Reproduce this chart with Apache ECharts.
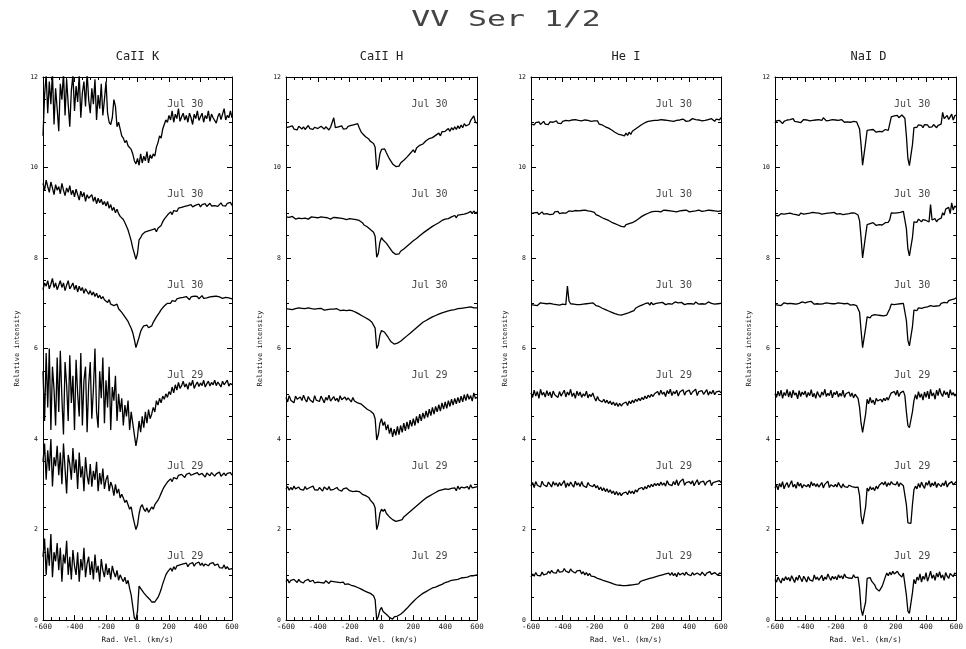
<!DOCTYPE html>
<html><head><meta charset="utf-8">
<script src="https://cdn.jsdelivr.net/npm/echarts@6/dist/echarts.min.js"></script>
<style>html,body{margin:0;padding:0;background:#fff}#c{width:966px;height:649px}</style>
</head><body><div id="c"></div>
<script>
// ---------- DATA ----------
// radial velocity grid, km/s
const velocity = [
-600,-590,-580,-570,-560,-550,-540,-530,-520,-510,
-500,-490,-480,-470,-460,-450,-440,-430,-420,-410,
-400,-390,-380,-370,-360,-350,-340,-330,-320,-310,
-300,-290,-280,-270,-260,-250,-240,-230,-220,-210,
-200,-190,-180,-170,-160,-150,-140,-130,-120,-110,
-100,-90,-80,-70,-60,-50,-40,-30,-20,-10,
0,10,20,30,40,50,60,70,80,90,
100,110,120,130,140,150,160,170,180,190,
200,210,220,230,240,250,260,270,280,290,
300,310,320,330,340,350,360,370,380,390,
400,410,420,430,440,450,460,470,480,490,
500,510,520,530,540,550,560,570,580,590,
600];
const offsets = [10, 8, 6, 4, 2, 0];
const dates = ['Jul 30', 'Jul 30', 'Jul 30', 'Jul 29', 'Jul 29', 'Jul 29'];
const panelTitles = ['CaII K', 'CaII H', 'He I', 'NaI D'];
const xTicks = [-600, -400, -200, 0, 200, 400, 600];
const yTicks = [0, 2, 4, 6, 8, 10, 12];

// Relative intensity of each spectrum in hundredths (before the vertical offset)
// CaII K
const caK1 = [70,160,205,120,190,140,210,95,175,130, 80,185,150,210,115,195,140,90,170,205, 125,180,145,205,110,165,190,135,210,150, 120,175,140,195,105,160,130,185,115,150, 190,120,100,95,110,150,135,90,100,85, 70,65,55,60,48,52,40,30,15,8, 20,5,30,10,25,15,35,10,28,20, 30,25,45,55,70,65,85,95,105,100, 115,105,125,100,118,108,130,102,112,120, 105,115,100,120,110,95,118,108,125,104, 112,120,100,115,108,125,102,118,110,114, 98,112,120,106,118,130,105,115,110,125, 110];
const caK2 = [165,150,172,158,145,168,155,140,162,150, 158,142,165,150,138,155,145,160,140,150, 135,152,140,128,148,135,145,125,140,132, 128,140,125,135,120,132,122,130,118,125, 115,125,110,118,105,112,100,108,98,92, 95,85,78,70,62,50,38,22,10,-3, 10,40,45,52,48,58,55,60,56,62, 60,65,58,66,62,72,80,86,90,95, 98,102,96,105,108,103,110,106,112,108, 114,110,116,112,118,113,110,117,114,119, 113,118,115,120,114,117,121,115,119,116, 120,114,118,122,116,119,115,121,117,123, 116];
const caK3 = [130,145,138,150,132,142,155,135,145,130, 140,150,135,145,128,140,150,132,138,145, 130,140,125,138,128,135,122,132,126,120, 128,118,125,115,122,112,118,110,115,108, 110,102,108,98,100,95,92,98,88,85, 80,75,70,65,60,52,45,35,20,2, 5,25,38,45,50,48,52,46,44,50, 58,62,70,75,80,86,90,94,96,100, 104,100,106,108,104,110,107,112,109,113, 110,115,112,108,114,111,116,112,115,110, 113,117,111,115,112,116,114,110,115,113, 116,112,114,117,111,115,113,116,112,114, 110];
const caK4 = [150,40,190,70,200,20,160,110,30,180, 60,195,90,10,170,120,40,185,80,140, 20,175,100,50,190,30,130,160,15,120, 170,45,110,200,60,25,150,90,180,35, 130,70,160,20,115,85,140,40,100,60, 90,30,75,50,85,20,60,35,10,-15, 5,40,15,50,25,60,35,65,45,55, 70,60,85,75,90,80,95,88,100,92, 105,98,115,102,120,108,125,112,118,128, 115,122,110,125,118,130,112,120,126,116, 124,118,130,115,122,128,117,125,120,130, 118,126,121,115,128,120,124,130,117,123, 120];
const caK5 = [150,190,110,175,130,200,95,160,140,185, 120,170,100,190,135,80,165,145,110,180, 125,155,90,170,115,140,85,160,120,100, 145,95,130,110,150,85,125,100,135,90, 110,120,85,105,95,75,100,80,90,70, 78,70,60,65,55,45,50,30,15,0, 10,35,50,55,45,40,48,38,42,50, 45,55,52,65,72,80,88,95,100,105, 108,112,106,115,118,112,120,116,122,118, 115,122,118,125,120,116,123,119,126,121, 118,124,120,116,125,121,119,126,122,118, 123,120,127,118,122,125,119,124,121,126, 120];
const caK6 = [140,180,100,160,120,190,95,150,130,170, 110,160,85,145,125,175,100,140,90,155, 120,100,150,85,135,110,160,95,125,140, 100,130,90,145,105,120,85,135,110,95, 125,100,115,90,120,105,95,110,88,100, 92,85,95,80,88,70,55,30,5,0, 20,75,70,65,60,58,52,48,45,40, 42,40,45,50,58,68,80,90,100,106, 110,115,108,118,112,120,116,122,118,124, 120,126,118,124,121,127,119,125,122,128, 121,126,119,124,128,120,125,122,127,121, 118,124,116,120,115,122,113,118,112,116, 114];

// CaII H
const caH1 = [88,84,90,86,92,85,89,83,91,87, 85,90,84,88,93,86,90,84,89,92, 86,84,91,88,85,90,87,83,89,86, 110,88,84,90,87,92,85,89,86,91, 88,93,89,95,92,97,88,80,75,72, 68,64,63,58,59,53,45,-5,5,30, 40,36,41,33,29,19,15,8,7,2, 6,3,10,9,16,14,23,21,31,30, 39,33,43,41,49,47,52,51,59,56, 64,60,66,63,71,67,76,70,79,76, 80,77,86,80,88,83,90,84,92,86, 94,88,97,92,96,95,104,106,114,100, 98];
const caH2 = [91,88,90,87,92,89,86,90,88,91, 87,90,88,92,86,89,91,87,90,88, 89,86,91,88,90,87,89,92,86,88, 90,87,89,86,88,91,87,89,85,88, 87,88,86,86,85,85,83,79,78,73, 74,69,69,63,63,57,48,2,10,35, 45,40,42,33,32,23,22,13,14,8, 12,9,15,13,20,19,26,25,32,31, 38,37,43,42,49,48,55,53,60,59, 65,63,70,68,74,72,78,77,83,80, 86,84,87,86,91,88,94,89,95,93, 96,94,97,96,99,97,103,98,104,99, 102];
const caH3 = [88,90,87,89,86,90,88,87,90,86, 89,87,88,86,90,87,88,85,87,86, 88,86,89,87,85,88,86,89,87,85, 87,85,88,86,84,87,85,86,84,86, 85,84,83,82,80,78,76,74,72,70, 68,66,64,62,58,54,45,0,8,30, 40,38,36,32,26,20,15,12,10,10, 12,14,16,19,22,25,28,31,34,37, 40,43,46,49,52,55,58,60,62,64, 66,68,70,71,73,75,76,78,79,80, 81,82,83,84,85,86,86,87,88,88, 89,88,90,89,91,90,92,91,90,92, 90];
const caH4 = [92,82,96,86,90,80,95,88,84,93, 85,97,88,82,94,87,91,81,96,86, 90,83,95,88,80,92,86,97,84,89, 94,85,90,82,96,87,83,93,86,91, 88,82,92,84,86,80,84,78,76,72, 74,66,70,62,64,56,45,-2,10,35, 45,30,38,20,32,12,25,5,22,8, 28,10,30,15,35,18,38,22,42,28, 45,30,50,35,55,40,58,45,62,48, 66,52,70,55,72,60,76,62,80,66, 82,68,85,72,88,75,90,78,92,80, 95,82,98,85,100,88,96,84,102,90, 92];
const caH5 = [90,95,87,93,88,96,90,86,94,89, 92,87,95,89,86,93,90,96,88,92, 87,93,89,85,94,90,88,95,87,91, 89,86,93,88,91,85,90,87,92,88, 86,90,84,88,85,82,84,80,78,76, 75,71,71,65,64,57,48,0,12,36, 45,40,45,36,36,28,29,22,23,18, 19,20,22,22,28,26,34,33,40,38, 46,45,52,51,58,57,64,62,70,67, 74,72,78,75,82,79,86,82,88,85, 90,87,89,90,91,90,92,86,96,89, 94,92,92,94,95,89,99,92,94,94, 95];
const caH6 = [85,90,82,88,84,90,86,83,90,85, 88,82,87,84,90,85,83,88,82,86, 84,88,83,86,82,87,84,81,86,83, 85,82,84,80,83,81,84,79,82,80, 81,77,80,75,76,72,73,69,69,65, 66,62,63,59,59,54,45,0,8,22, 28,19,19,13,11,6,6,2,7,4, 9,8,13,13,19,20,26,28,34,35, 41,42,48,49,54,53,59,58,63,62, 67,66,71,69,73,72,76,74,79,78, 83,81,85,84,88,86,89,88,90,89, 93,89,94,93,95,94,98,96,98,97, 100];

// He I
const heI1 = [96,100,94,99,97,101,95,98,102,96, 99,95,101,97,100,96,103,98,100,97, 102,98,104,100,103,99,105,101,106,102, 104,108,103,107,105,109,104,106,102,105, 103,99,103,96,100,94,97,90,94,87, 89,83,85,78,81,74,78,72,76,70, 76,71,78,73,80,78,85,84,90,89, 95,93,99,97,102,101,103,103,104,104, 104,102,106,103,105,101,104,107,103,105, 102,106,104,101,105,103,107,104,102,106, 103,105,108,104,106,102,105,107,103,106, 104,100,106,103,108,104,102,107,109,105, 110];
const heI2 = [98,95,100,97,101,96,99,102,97,100, 98,101,96,100,97,102,99,103,98,101, 100,103,99,102,104,100,103,101,105,102, 104,101,105,103,106,102,104,100,103,101, 101,96,99,93,96,89,93,86,89,83, 85,79,81,76,78,73,75,70,74,69, 74,70,76,72,78,77,82,82,87,87, 92,91,96,95,99,98,102,101,103,102, 103,105,102,104,106,103,105,102,104,106, 103,105,102,106,104,101,105,103,106,104, 102,105,103,107,104,102,106,104,103,105, 104,102,106,103,105,108,104,106,103,105, 104];
const heI3 = [97,100,96,99,95,98,101,97,100,96, 99,97,100,96,98,101,97,99,96,100, 98,101,97,138,105,99,102,98,101,97, 100,97,101,98,102,99,97,100,98,101, 100,95,98,93,94,89,92,86,88,83, 85,80,82,77,80,75,79,74,78,76, 80,78,82,81,85,84,89,88,93,92, 96,95,99,97,101,96,102,97,101,100, 99,101,98,102,100,97,101,99,102,98, 100,103,99,101,98,102,100,97,101,99, 102,99,101,98,103,100,98,102,99,101, 98,101,103,99,100,102,98,101,99,102, 100];
const heI4 = [102,92,108,95,105,90,110,97,103,93, 107,96,104,91,106,98,102,92,105,95, 98,108,93,104,97,110,94,102,90,106, 96,104,92,100,95,106,91,99,94,102, 92,84,94,86,90,82,88,80,86,78, 84,76,82,74,80,72,79,73,78,75, 82,74,84,78,86,80,88,83,90,85, 92,87,95,89,97,92,99,94,100,96, 105,97,108,99,104,94,107,100,110,96, 105,100,108,95,104,102,109,97,105,101, 108,98,104,100,110,96,105,101,107,99, 103,109,97,105,100,108,98,104,101,106, 102];
const heI5 = [96,104,93,106,98,102,94,107,99,103, 95,105,100,94,106,98,103,95,104,97, 100,108,93,103,96,105,99,94,107,98, 103,95,106,97,101,93,104,98,100,95, 100,92,97,88,94,86,92,84,90,82, 88,80,85,77,84,76,82,75,80,78, 83,77,86,80,85,79,88,83,90,86, 93,88,95,90,98,93,100,95,102,97, 102,97,105,98,103,96,108,100,104,97, 106,99,110,97,105,102,112,98,104,100, 106,101,108,97,104,110,99,105,102,107, 98,105,101,109,97,104,100,106,103,108, 104];
const heI6 = [95,102,97,105,99,103,98,106,100,104, 102,108,103,110,105,109,104,112,106,110, 107,114,108,112,105,113,108,111,104,109, 106,110,102,107,100,105,98,103,97,101, 96,100,92,96,90,94,87,91,85,88, 83,86,80,84,78,82,77,80,76,79, 76,80,77,81,78,82,79,83,80,85, 83,88,85,90,87,92,89,94,91,96, 93,98,95,100,97,102,98,104,99,105, 98,103,96,105,100,97,104,99,106,101, 103,98,105,100,96,104,101,99,106,102, 98,104,100,107,101,97,105,102,99,104, 103];

// NaI D
const naD1 = [98,103,99,104,100,97,102,99,105,101, 106,103,108,102,105,101,104,99,103,106, 102,105,107,103,106,104,101,105,102,106, 108,104,110,106,103,107,104,102,106,103, 105,101,104,102,106,103,100,104,101,103, 100,104,102,98,101,97,85,50,5,5, 55,82,80,83,79,84,81,78,82,80, 83,79,81,84,80,82,86,112,110,114, 111,115,110,113,116,112,109,70,20,4, 5,50,88,92,89,94,90,93,88,95, 91,94,89,93,90,95,92,88,93,91, 96,122,108,104,115,106,112,118,105,114, 116];
const naD2 = [95,97,93,96,98,94,97,95,98,96, 99,95,97,100,96,98,94,99,101,97, 100,98,102,99,97,101,98,100,96,99, 101,97,100,98,102,99,96,100,98,101, 99,97,100,98,101,96,99,97,100,98, 97,100,96,99,98,95,82,45,0,2, 50,74,72,76,73,78,75,72,76,74, 77,73,76,78,74,79,85,100,102,99, 103,100,104,101,99,103,100,65,20,5, 6,45,80,84,79,86,82,80,85,81, 83,86,80,118,84,82,87,80,85,83, 88,100,95,108,104,112,98,122,106,115, 112];
const naD3 = [97,100,96,99,95,98,101,97,99,96, 100,97,99,102,98,96,100,98,103,99, 101,98,103,100,104,101,98,102,99,101, 98,102,99,97,101,98,100,103,99,101, 99,97,101,98,100,96,99,97,100,98, 96,99,97,98,95,97,80,40,2,3, 45,70,72,68,73,70,75,72,74,71, 73,75,72,76,74,78,88,98,100,97, 100,98,101,99,102,100,98,62,18,6, 8,48,85,88,84,90,86,89,87,91, 88,92,90,95,91,93,96,94,98,95, 100,98,102,104,101,106,103,108,105,110, 112];
const naD4 = [100,92,106,95,108,90,103,96,110,93, 105,91,108,97,102,89,107,94,104,98, 106,92,103,96,109,93,101,90,105,97, 92,104,97,110,94,101,96,108,91,103, 98,106,93,101,95,108,92,100,96,104, 94,102,91,99,96,90,70,35,15,18, 55,88,78,92,80,86,76,90,84,80, 88,82,90,85,92,86,95,102,98,105, 97,108,94,102,99,106,96,60,30,25, 28,60,85,98,88,105,92,100,86,104, 92,106,89,110,95,102,88,108,96,112, 100,94,107,98,104,91,109,97,103,95, 100];
const naD5 = [92,98,88,102,94,106,90,99,104,93, 97,108,94,100,91,105,96,102,92,99, 103,95,100,93,106,97,102,95,101,94, 98,104,92,100,96,107,93,99,103,95, 100,94,104,97,92,101,95,99,93,98, 102,95,99,93,97,94,75,30,12,15, 50,92,85,95,88,93,86,96,90,98, 94,104,99,106,95,103,98,106,101,105, 99,106,95,103,100,97,94,55,15,12, 14,55,88,96,90,102,93,105,97,91, 104,98,108,94,103,97,106,93,102,99, 95,103,97,108,94,101,97,106,99,103, 106];
const naD6 = [90,84,95,88,82,93,87,96,89,94, 86,98,91,83,95,88,99,92,85,97, 91,84,96,89,93,86,100,90,95,88, 92,99,87,95,90,102,94,88,97,91, 96,89,100,93,98,91,102,95,99,93, 97,92,100,94,98,95,70,25,10,12, 40,92,88,94,86,82,78,70,66,64, 68,75,85,95,104,98,106,100,108,102, 98,108,102,106,95,104,100,55,20,15, 18,60,90,80,95,88,102,84,97,90, 105,86,96,108,92,100,88,104,95,107, 93,100,88,105,97,92,103,99,96,104, 102];

const panelSpectra = [
  [caK1, caK2, caK3, caK4, caK5, caK6],
  [caH1, caH2, caH3, caH4, caH5, caH6],
  [heI1, heI2, heI3, heI4, heI5, heI6],
  [naD1, naD2, naD3, naD4, naD5, naD6]
];
panelSpectra.forEach((sp, p) => sp.forEach((a, s) => {
  if (a.length !== velocity.length) throw new Error('panel ' + p + ' spectrum ' + s + ' has ' + a.length + ' values');
}));

// ---------- LAYOUT ----------
const FONT = '"DejaVu Sans Mono", monospace';
const gridLeft = [43, 286, 531, 775];
const gridWidth = [189, 191, 190, 187];
const gridTop = 77, gridHeight = 548;

const grid = gridLeft.map((l, i) => ({ left: l, top: gridTop, width: gridWidth[i], height: gridHeight }));

const common = {
  axisLine: { show: true, onZero: false, lineStyle: { color: '#000', width: 1 } },
  axisTick: { show: true, inside: true, length: 5, lineStyle: { color: '#000', width: 1 } },
  minorTick: { show: true, splitNumber: 4, length: 3, lineStyle: { color: '#000', width: 1 } },
  splitLine: { show: false },
  minorSplitLine: { show: false }
};

const xAxis = [], yAxis = [], series = [];
panelSpectra.forEach((spectra, p) => {
  xAxis.push(Object.assign({}, common, {
    type: 'value', gridIndex: p, position: 'bottom', min: xTicks[0], max: xTicks[xTicks.length - 1],
    interval: xTicks[1] - xTicks[0],
    axisLabel: { show: true, fontSize: 7.5, fontFamily: FONT, color: '#111', margin: 3 },
    name: 'Rad. Vel. (km/s)', nameLocation: 'middle', nameGap: 14,
    nameTextStyle: { fontSize: 7.5, fontFamily: FONT, color: '#111' }
  }));
  xAxis.push(Object.assign({}, common, {
    type: 'value', gridIndex: p, position: 'top', min: xTicks[0], max: xTicks[xTicks.length - 1],
    interval: xTicks[1] - xTicks[0], axisLabel: { show: false }
  }));
  yAxis.push(Object.assign({}, common, {
    type: 'value', gridIndex: p, position: 'left', min: yTicks[0], max: yTicks[yTicks.length - 1],
    interval: yTicks[1] - yTicks[0],
    axisLabel: { show: true, fontSize: 6.5, fontFamily: FONT, color: '#111', margin: 5 },
    name: 'Relative intensity', nameLocation: 'middle', nameGap: 22, nameRotate: 90,
    nameTextStyle: { fontSize: 7, fontFamily: FONT, color: '#111' }
  }));
  yAxis.push(Object.assign({}, common, {
    type: 'value', gridIndex: p, position: 'right', min: yTicks[0], max: yTicks[yTicks.length - 1],
    interval: yTicks[1] - yTicks[0], axisLabel: { show: false }
  }));

  spectra.forEach((arr, s) => {
    series.push({
      type: 'line', xAxisIndex: p * 2, yAxisIndex: p * 2,
      data: velocity.map((v, i) => [v, +(offsets[s] + arr[i] / 100).toFixed(3)]),
      showSymbol: false, symbol: 'none', clip: true, silent: true,
      lineStyle: { color: '#000', width: 1.3 }
    });
  });
  series.push({
    type: 'scatter', xAxisIndex: p * 2, yAxisIndex: p * 2, silent: true,
    symbolSize: 1, itemStyle: { color: 'rgba(0,0,0,0)' },
    data: offsets.map((o, s) => ({ name: dates[s], value: [185, o + 1.4] })),
    label: { show: true, position: 'right', distance: 0, formatter: '{b}', fontSize: 10, fontFamily: FONT, color: '#111' }
  });
});

const graphic = [{
  type: 'text', x: 506, y: 21, scaleX: 1.5, silent: true,
  style: { text: 'VV Ser 1/2', font: '21px ' + FONT, fill: '#444', textAlign: 'center', textVerticalAlign: 'middle', align: 'center', verticalAlign: 'middle' }
}];
panelTitles.forEach((t, p) => {
  graphic.push({
    type: 'text', x: gridLeft[p] + gridWidth[p] / 2, y: 57, silent: true,
    style: { text: t, font: '12px ' + FONT, fill: '#222', textAlign: 'center', textVerticalAlign: 'middle', align: 'center', verticalAlign: 'middle' }
  });
});

const chart = echarts.init(document.getElementById('c'), null, { renderer: 'canvas' });
chart.setOption({ animation: false, backgroundColor: '#fff', grid, xAxis, yAxis, series, graphic });
</script>
</body></html>
